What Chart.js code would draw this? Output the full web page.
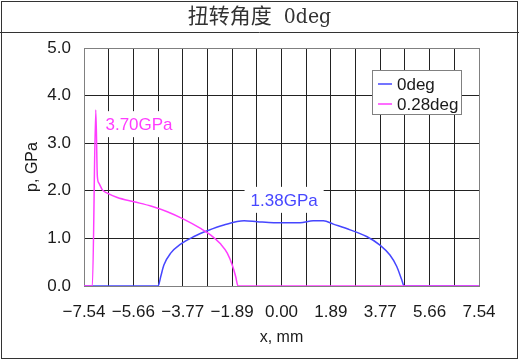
<!DOCTYPE html>
<html>
<head>
<meta charset="utf-8">
<script src="https://cdn.jsdelivr.net/npm/chart.js@4.4.1/dist/chart.umd.min.js"></script>
<style>
  html, body { margin: 0; padding: 0; background: #fff; }
  #wrap { width: 519px; height: 360px; }
</style>
</head>
<body>
<div id="wrap"><canvas id="c" width="519" height="360"></canvas></div>
<script>
// contact pressure along x for two twist angles
const xDeg0 = [-7.54, -4.71, -4.61, -4.49, -4.23, -3.85, -3.34, -2.83, -2.20, -1.43, -0.92, -0.30, 0.15, 0.71, 1.21, 1.60, 1.98, 2.62, 3.25, 3.76, 4.14, 4.40, 4.59, 4.68, 7.54];
const pDeg0 = [0, 0, 0.20, 0.44, 0.69, 0.88, 1.04, 1.16, 1.28, 1.37, 1.35, 1.33, 1.33, 1.33, 1.37, 1.37, 1.30, 1.18, 1.04, 0.86, 0.65, 0.41, 0.13, 0, 0];

const xDeg028 = [-7.54, -7.22, -7.09, -7.03, -6.97, -6.84, -6.65, -6.27, -5.63, -4.99, -4.36, -3.72, -3.09, -2.70, -2.32, -2.07, -1.88, -1.75, -1.66, 7.54];
const pDeg028 = [0, 0, 3.70, 2.30, 2.16, 2.02, 1.95, 1.86, 1.77, 1.68, 1.56, 1.40, 1.21, 1.07, 0.88, 0.69, 0.44, 0.20, 0, 0];

const seriesNames = ['0deg', '0.28deg'];
const xTickLabels = ['\u22127.54', '\u22125.66', '\u22123.77', '\u22121.89', '0.00', '1.89', '3.77', '5.66', '7.54'];
const yTickLabels = ['0.0', '1.0', '2.0', '3.0', '4.0', '5.0'];

// peak callouts
const peakText = ['3.70GPa', '1.38GPa'];
const peakX = [-5.44, 0.10];
const peakY = [3.40, 1.81];

const BLUE = '#4646ff';
const PINK = '#ff3cff';
const SANS = "'Liberation Sans', Arial, sans-serif";

const xMin = -7.54, xMax = 7.54, xStep = 0.9425;

function toPoints(xs, ys) {
  return xs.map((x, i) => ({ x: x, y: ys[i] }));
}

const framePlugin = {
  id: 'frame',
  beforeDraw(chart) {
    const ctx = chart.ctx;
    ctx.save();
    ctx.fillStyle = '#fff';
    ctx.fillRect(0, 0, chart.width, chart.height);
    ctx.strokeStyle = '#333';
    ctx.lineWidth = 1;
    ctx.strokeRect(1.5, 1.5, chart.width - 3, chart.height - 3);
    ctx.beginPath();
    ctx.moveTo(0, 32.5);
    ctx.lineTo(chart.width, 32.5);
    ctx.stroke();
    ctx.restore();
  }
};

const calloutPlugin = {
  id: 'callouts',
  beforeDatasetsDraw(chart) {
    const ctx = chart.ctx;
    const xs = chart.scales.x, ys = chart.scales.y;
    const colors = [PINK, BLUE];
    ctx.save();
    ctx.font = '17px ' + SANS;
    ctx.textAlign = 'center';
    ctx.textBaseline = 'middle';
    peakText.forEach((t, i) => {
      const px = xs.getPixelForValue(peakX[i]);
      const py = ys.getPixelForValue(peakY[i]);
      const w = ctx.measureText(t).width + 12;
      ctx.fillStyle = '#fff';
      ctx.fillRect(px - w / 2, py - 13, w, 26);
      ctx.fillStyle = colors[i];
      ctx.fillText(t, px, py + 1);
    });
    ctx.restore();
  },
  afterDatasetsDraw(chart) {
    // legend box
    const ctx = chart.ctx;
    const a = chart.chartArea;
    const bx = a.right - 106.5, by = a.top + 22.5, bw = 89, bh = 44;
    ctx.save();
    ctx.fillStyle = '#fff';
    ctx.fillRect(bx, by, bw, bh);
    ctx.strokeStyle = '#808080';
    ctx.lineWidth = 1;
    ctx.strokeRect(bx, by, bw, bh);
    ctx.font = '17px ' + SANS;
    ctx.textBaseline = 'middle';
    ctx.textAlign = 'left';
    chart.data.datasets.forEach((ds, i) => {
      const cy = by + 13.5 + i * 20;
      ctx.strokeStyle = ds.borderColor;
      ctx.lineWidth = 1.5;
      ctx.beginPath();
      ctx.moveTo(bx + 5.5, cy);
      ctx.lineTo(bx + 19.5, cy);
      ctx.stroke();
      ctx.fillStyle = '#1a1a1a';
      ctx.fillText(ds.label, bx + 24.5, cy + 1);
    });
    ctx.restore();
  }
};

function gridColor(ctx) {
  const n = ctx.scale.ticks.length;
  return (ctx.index === 0 || ctx.index === n - 1) ? '#808080' : '#222';
}

new Chart(document.getElementById('c'), {
  type: 'line',
  data: {
    datasets: [
      {
        label: seriesNames[0],
        data: toPoints(xDeg0, pDeg0),
        borderColor: BLUE,
        borderWidth: 1.5,
        pointRadius: 0,
        cubicInterpolationMode: 'monotone',
        fill: false,
        order: 1
      },
      {
        label: seriesNames[1],
        data: toPoints(xDeg028, pDeg028),
        borderColor: PINK,
        borderWidth: 1.5,
        pointRadius: 0,
        cubicInterpolationMode: 'monotone',
        fill: false,
        order: 0
      }
    ]
  },
  options: {
    responsive: false,
    animation: false,
    layout: { padding: 0 },
    plugins: {
      legend: { display: false },
      tooltip: { enabled: false },
      title: {
        display: true,
        text: '扭转角度  0deg',
        color: '#333',
        font: { family: "'DejaVu Serif Condensed', 'Liberation Serif', 'Noto Sans CJK SC', serif", size: 21, weight: 'normal', lineHeight: 1.2 },
        padding: { top: 5, bottom: 17.8 }
      }
    },
    scales: {
      x: {
        type: 'linear',
        min: xMin,
        max: xMax,
        afterBuildTicks(scale) {
          const t = [];
          for (let i = 0; i <= 16; i++) t.push({ value: xMin + i * xStep });
          scale.ticks = t;
        },
        afterFit(scale) { scale.height = 74; },
        grid: { color: gridColor, lineWidth: 1, drawTicks: false },
        border: { color: '#808080' },
        ticks: {
          autoSkip: false,
          maxRotation: 0,
          padding: 16,
          color: '#1a1a1a',
          font: { family: SANS, size: 17 },
          callback: (v, i) => (i % 2 === 0 ? xTickLabels[i / 2] : '')
        },
        title: {
          display: true,
          text: 'x, mm',
          color: '#1a1a1a',
          font: { family: SANS, size: 16 },
          padding: { top: 0, bottom: 13 }
        }
      },
      y: {
        min: 0,
        max: 5,
        afterFit(scale) { scale.width = 84; },
        grid: { color: gridColor, lineWidth: 1, drawTicks: false },
        border: { color: '#808080' },
        ticks: {
          stepSize: 1,
          padding: 13,
          color: '#1a1a1a',
          font: { family: SANS, size: 17 },
          callback: (v, i) => yTickLabels[i]
        },
        title: {
          display: true,
          text: 'p, GPa',
          color: '#1a1a1a',
          font: { family: SANS, size: 16 },
          padding: { top: 23, bottom: 0 }
        }
      },
      // empty right-hand margin so the title stays centred on the whole card
      yRight: {
        type: 'linear',
        position: 'right',
        min: 0,
        max: 5,
        afterFit(scale) { scale.width = 40; },
        grid: { display: false, drawOnChartArea: false },
        border: { display: false },
        ticks: { display: false }
      }
    }
  },
  plugins: [framePlugin, calloutPlugin]
});
</script>
</body>
</html>
